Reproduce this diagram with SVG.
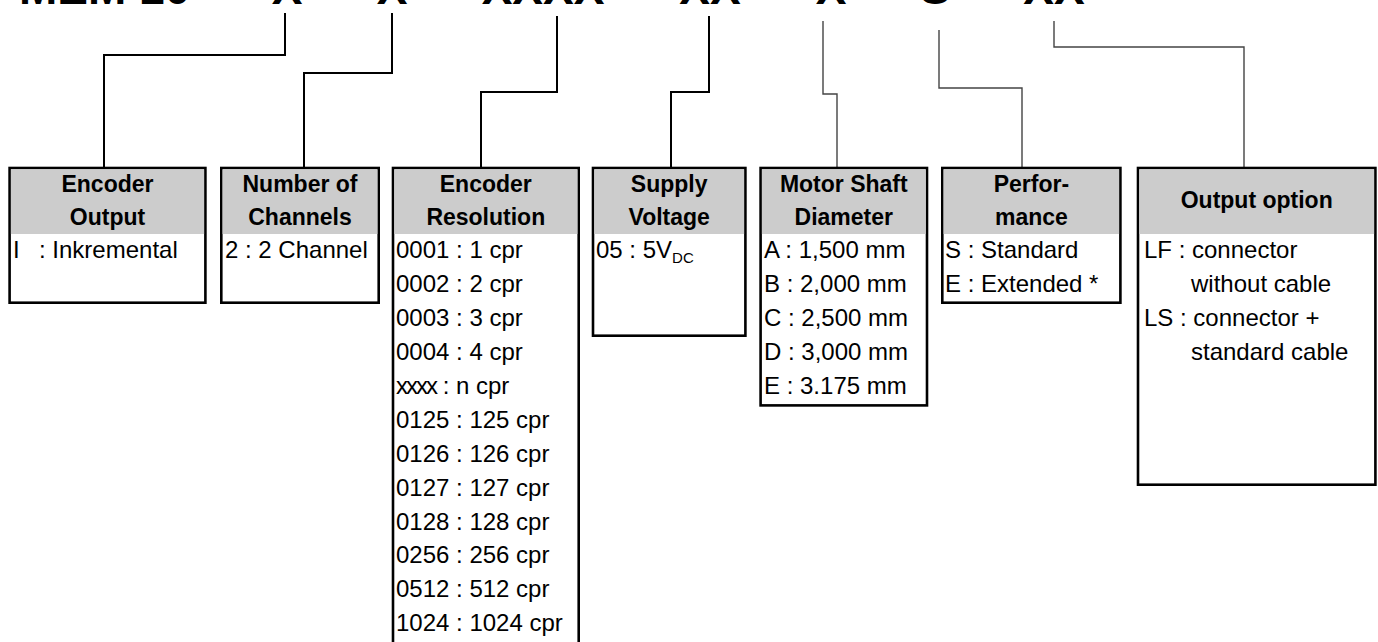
<svg xmlns="http://www.w3.org/2000/svg" width="1378" height="642" viewBox="0 0 1378 642">
<style>
.box{fill:#fff;stroke:#000;stroke-width:2.6}
.hdr{fill:#cccccc}
.ht{font-family:"Liberation Sans",Arial,sans-serif;font-weight:bold;font-size:23px;text-anchor:middle;fill:#000}
.bt{font-family:"Liberation Sans",Arial,sans-serif;font-size:24px;fill:#000}
.top{font-family:"Liberation Sans",Arial,sans-serif;font-weight:bold;font-size:46px;fill:#000}
.c1{fill:none;stroke:#000;stroke-width:2}
.c2{fill:none;stroke:#444;stroke-width:1.4}
</style>
<rect width="1378" height="642" fill="#fff"/>
<g id="code">
<text class="top" x="19" y="4">MEM 10</text>
<text class="top" x="287" y="4" text-anchor="middle">X</text>
<text class="top" x="392" y="4" text-anchor="middle">X</text>
<text class="top" x="543" y="4" text-anchor="middle">XXXX</text>
<text class="top" x="710" y="4" text-anchor="middle">XX</text>
<text class="top" x="831" y="4" text-anchor="middle">X</text>
<text class="top" x="935" y="4" text-anchor="middle">S</text>
<text class="top" x="1054" y="4" text-anchor="middle">XX</text>
</g>
<g id="connectors">
<polyline class="c1" points="285,13 285,55 104,55 104,167"/>
<polyline class="c1" points="392,13 392,73 304,73 304,167"/>
<polyline class="c1" points="557,16 557,92 481,92 481,167"/>
<polyline class="c1" points="709,16 709,92 671,92 671,167"/>
<polyline class="c2" points="823,21 823,94 837,94 837,167"/>
<polyline class="c2" points="939,30 939,88 1022,88 1022,167"/>
<polyline class="c2" points="1054,21 1054,47 1244,47 1244,167"/>
</g>
<g id="encoder-output">
<rect class="box" x="9.6" y="168" width="195.8" height="134.7"/>
<rect class="hdr" x="10.9" y="169.3" width="193.2" height="64.7"/>
<text class="ht" x="107.5" y="191.7">Encoder</text>
<text class="ht" x="107.5" y="225.3">Output</text>
<text class="bt" x="13" y="258.3">I</text>
<text class="bt" x="39" y="258.3">: Inkremental</text>
</g>
<g id="number-of-channels">
<rect class="box" x="221.3" y="168" width="157.4" height="134.7"/>
<rect class="hdr" x="222.6" y="169.3" width="154.8" height="64.7"/>
<text class="ht" x="300" y="191.7">Number of</text>
<text class="ht" x="300" y="225.3">Channels</text>
<text class="bt" x="225" y="258.3">2 : 2 Channel</text>
</g>
<g id="encoder-resolution">
<rect class="box" x="393" y="168" width="185.7" height="500"/>
<rect class="hdr" x="394.3" y="169.3" width="183.1" height="64.7"/>
<text class="ht" x="485.8" y="191.7">Encoder</text>
<text class="ht" x="485.8" y="225.3">Resolution</text>
<text class="bt" x="396" y="258.3">0001 : 1 cpr</text>
<text class="bt" x="396" y="292.2">0002 : 2 cpr</text>
<text class="bt" x="396" y="326.1">0003 : 3 cpr</text>
<text class="bt" x="396" y="360">0004 : 4 cpr</text>
<text class="bt" x="396" y="393.9"><tspan letter-spacing="-2">xxxx</tspan> : n cpr</text>
<text class="bt" x="396" y="427.8">0125 : 125 cpr</text>
<text class="bt" x="396" y="461.7">0126 : 126 cpr</text>
<text class="bt" x="396" y="495.6">0127 : 127 cpr</text>
<text class="bt" x="396" y="529.5">0128 : 128 cpr</text>
<text class="bt" x="396" y="563.4">0256 : 256 cpr</text>
<text class="bt" x="396" y="597.3">0512 : 512 cpr</text>
<text class="bt" x="396" y="631.2">1024 : 1024 cpr</text>
</g>
<g id="supply-voltage">
<rect class="box" x="593" y="168" width="152.4" height="167.7"/>
<rect class="hdr" x="594.3" y="169.3" width="149.8" height="64.7"/>
<text class="ht" x="669.2" y="191.7">Supply</text>
<text class="ht" x="669.2" y="225.3">Voltage</text>
<text class="bt" x="596" y="258.3">05 : 5V<tspan font-size="15" dy="5">DC</tspan></text>
</g>
<g id="motor-shaft-diameter">
<rect class="box" x="760.6" y="168" width="166.4" height="237.4"/>
<rect class="hdr" x="761.9" y="169.3" width="163.8" height="64.7"/>
<text class="ht" x="843.8" y="191.7">Motor Shaft</text>
<text class="ht" x="843.8" y="225.3">Diameter</text>
<text class="bt" x="764" y="258.3">A : 1,500 mm</text>
<text class="bt" x="764" y="292.2">B : 2,000 mm</text>
<text class="bt" x="764" y="326.1">C : 2,500 mm</text>
<text class="bt" x="764" y="360">D : 3,000 mm</text>
<text class="bt" x="764" y="393.9">E : 3.175 mm</text>
</g>
<g id="performance">
<rect class="box" x="942.3" y="168" width="178.1" height="134.7"/>
<rect class="hdr" x="943.6" y="169.3" width="175.5" height="64.7"/>
<text class="ht" x="1031.4" y="191.7">Perfor-</text>
<text class="ht" x="1031.4" y="225.3">mance</text>
<text class="bt" x="945" y="258.3">S : Standard</text>
<text class="bt" x="945" y="292.2">E : Extended *</text>
</g>
<g id="output-option">
<rect class="box" x="1138" y="168" width="237.4" height="316.7"/>
<rect class="hdr" x="1139.3" y="169.3" width="234.8" height="64.7"/>
<text class="ht" x="1256.7" y="208">Output option</text>
<text class="bt" x="1144" y="258.3">LF : connector</text>
<text class="bt" x="1191" y="292.2">without cable</text>
<text class="bt" x="1144" y="326.1">LS : connector +</text>
<text class="bt" x="1191" y="360">standard cable</text>
</g>
</svg>
